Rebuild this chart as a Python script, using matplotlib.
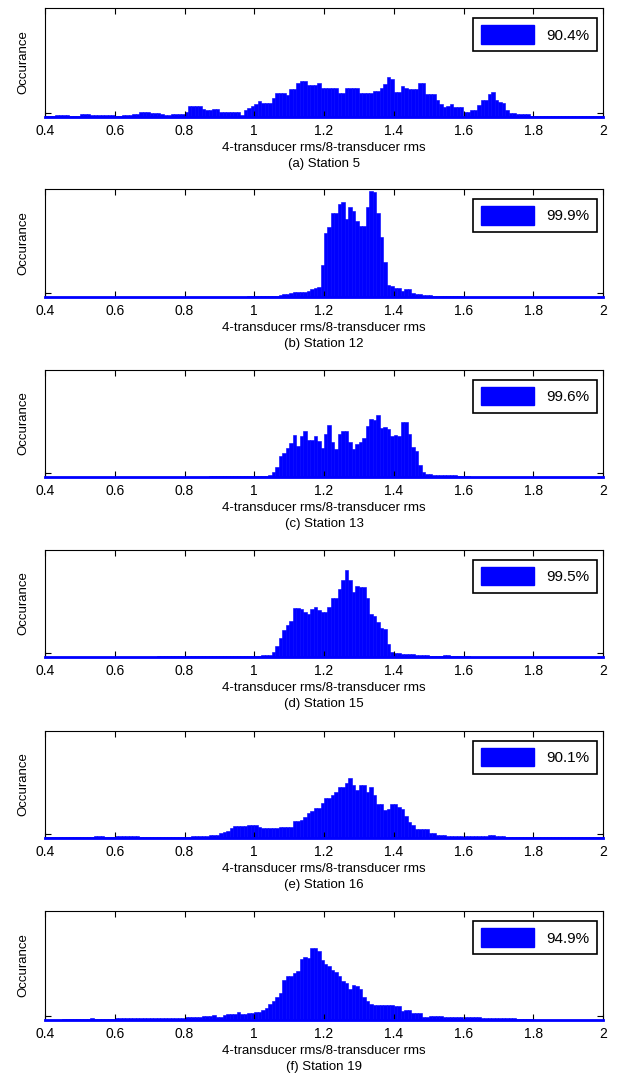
import numpy as np
import matplotlib
matplotlib.use('Agg')
import matplotlib.pyplot as plt
from matplotlib.patches import Patch

plt.rcParams['font.family'] = ['Liberation Sans', 'DejaVu Sans']

# Histogram heights (percent of panel height), bins of 0.01 from 0.4 to 2.0
station_5 = [
    1, 1, 1, 2, 2, 2, 2, 1, 1, 1,
    3, 3, 3, 2, 2, 2, 2, 2, 2, 2,
    1, 1, 2, 2, 2, 3, 3, 5, 5, 5,
    4, 4, 4, 3, 2, 2, 3, 3, 3, 3,
    5, 10, 10, 10, 10, 7, 6, 6, 7, 7,
    5, 5, 5, 5, 5, 5, 2, 6, 8, 10,
    12, 15, 13, 13, 13, 17, 22, 22, 22, 20,
    26, 26, 31, 33, 33, 29, 29, 29, 31, 27,
    27, 27, 27, 27, 22, 22, 27, 27, 27, 27,
    22, 22, 22, 22, 24, 24, 27, 30, 37, 35,
    23, 23, 28, 27, 26, 26, 26, 31, 31, 21,
    21, 21, 16, 12, 9, 10, 12, 9, 9, 9,
    5, 5, 6, 6, 11, 16, 16, 21, 23, 16,
    14, 13, 6, 4, 4, 2.5, 2.5, 2.5, 2.5, 1,
    1, 0.5, 0.5, 0.5, 0.5, 0.5, 0.5, 0.5, 0.5, 0.5,
    0.5, 0.5, 0.5, 0.5, 0.5, 0.5, 0.5, 0.5, 0.5, 0.5,
]
station_12 = [
    0, 0, 0, 0, 0, 0, 0, 0, 0, 0,
    0, 0, 0, 0, 0, 0, 0, 0, 0, 0,
    0, 0, 0, 0, 0, 0, 0, 0, 0, 0,
    0, 0, 0, 0, 0, 0, 0, 0, 0, 0,
    0, 0, 0, 0, 0, 0, 0, 0, 0, 0,
    0, 0, 0, 0, 0, 0, 0, 0, 0.5, 0.5,
    0.5, 0.5, 0.5, 1, 1, 1, 1, 2, 3, 3,
    4, 5, 5, 5, 5, 6, 7, 8, 9, 30,
    59, 65, 78, 78, 86, 88, 72, 83, 80, 70,
    66, 66, 83, 98, 97, 78, 56, 32, 11, 10,
    8, 8, 6, 7, 7, 4, 3, 3, 2, 1.5,
    1.5, 1, 1, 1, 1, 0.5, 0.5, 0.5, 0.5, 0.5,
    0, 0, 0, 0, 0, 0, 0, 0, 0, 0,
    0, 0, 0, 0, 0, 0, 0, 0, 0, 0,
    0, 0, 0, 0, 0, 0, 0, 0, 0, 0,
    0, 0, 0, 0, 0, 0, 0, 0, 0, 0,
]
station_13 = [
    0, 0, 0, 0, 0, 0, 0, 0, 0, 0,
    0, 0, 0, 0, 0, 0, 0, 0, 0, 0,
    0, 0, 0, 0, 0, 0, 0, 0, 0, 0,
    0, 0, 0, 0, 0, 0, 0, 0, 0, 0,
    0, 0, 0, 0, 0, 0, 0, 1, 1, 1,
    1, 1, 1, 1, 1, 1, 1, 1, 1, 1,
    1, 1, 1, 1, 2, 5, 9, 20, 22, 27,
    32, 39, 29, 38, 43, 35, 35, 38, 34, 27,
    40, 49, 33, 26, 40, 43, 43, 33, 26, 31,
    33, 36, 48, 54, 53, 58, 46, 47, 45, 38,
    39, 38, 51, 51, 40, 28, 24, 11, 5, 3,
    3, 1.5, 1.5, 2, 2, 2, 2, 2, 1, 1,
    0.5, 0.5, 0, 0, 0, 0, 0, 0, 0, 0,
    0, 0, 0, 0, 0, 0, 0, 0, 0, 0,
    0, 0, 0, 0, 0, 0, 0, 0, 0, 0,
    0, 0, 0, 0, 0, 0, 0, 0, 0, 0,
]
station_15 = [
    0, 0, 0, 0, 0, 0, 0, 0, 0, 0,
    0, 0, 0, 0, 0, 0, 0, 0, 0, 0,
    0, 0, 0, 0, 0, 0, 0, 0, 0, 0,
    0, 0, 0.5, 0.5, 0.5, 0.5, 0.5, 0.5, 0.5, 0.5,
    0.5, 1, 1, 1, 1, 1, 1, 1, 1, 1,
    1, 1, 1, 1, 1, 1, 1, 1, 1, 1,
    1, 1, 1.5, 2, 2, 5, 10, 18, 25, 30,
    34, 46, 46, 45, 42, 40, 45, 47, 44, 42,
    42, 47, 55, 55, 64, 72, 81, 72, 61, 66,
    65, 65, 55, 40, 38, 33, 27, 26, 12, 5,
    4, 4, 3, 3, 3, 3, 2, 2, 2, 2,
    1, 1, 1, 1, 2, 2, 1, 1, 1, 1,
    0.5, 0.5, 0, 0, 0, 0, 0, 0, 0, 0,
    0, 0, 0, 0, 0, 0, 0, 0, 0, 0,
    0, 0, 0, 0, 0, 0, 0, 0, 0, 0,
    0, 0, 0, 0, 0, 0, 0, 0, 0, 0,
]
station_16 = [
    1, 1, 1, 1, 1, 1, 1, 1, 1, 1,
    1, 1, 1, 1, 1.5, 1.5, 1.5, 1, 1, 1,
    1.5, 1.5, 1.5, 1.5, 1.5, 1.5, 1.5, 1, 1, 1,
    1, 1, 1, 1, 1, 1, 1, 1, 1, 1,
    1, 1, 2, 2, 2, 1.5, 1.5, 3, 3, 2.5,
    4.5, 6, 7, 9, 11.5, 11.5, 11.5, 11.5, 12, 12,
    12, 10.5, 9.5, 9.5, 9.5, 9.5, 9.5, 10.5, 10.5, 10.5,
    10.5, 16, 16, 17, 20, 23, 25, 28, 28, 33,
    37, 37, 40, 43, 48, 48, 51, 56, 50, 45,
    50, 50, 43, 48, 40, 32, 32, 26, 27, 32,
    32, 29, 27, 21, 15, 12, 8.5, 8.5, 8.5, 8.5,
    5, 5, 2.5, 3, 3, 2, 2, 2, 2, 1.5,
    1.5, 1.5, 1.5, 1.5, 1.5, 1.5, 2, 3, 3, 2,
    2, 1.5, 1, 1, 1, 1, 1, 1, 1, 1,
    0.5, 0.5, 0.5, 0.5, 0.5, 0.5, 0.5, 0.5, 0.5, 0.5,
    0.5, 0.5, 0.5, 0.5, 0.5, 0.5, 0.5, 0.5, 0.5, 0.5,
]
station_19 = [
    0.3, 0.3, 0.3, 0.3, 0.3, 1, 1, 1, 1, 1,
    0.5, 0.5, 0.5, 2, 1.3, 1.3, 1.3, 1.3, 1.3, 1.3,
    1.5, 1.5, 1.5, 1.5, 1.5, 1.5, 1.5, 1.5, 1.5, 1.5,
    1.5, 1.5, 1.5, 1.5, 1.5, 1.5, 1.5, 1.5, 2, 2,
    3, 3, 3, 3, 3, 4, 4, 4, 4.5, 3,
    3, 4.3, 5.2, 5.2, 5.2, 7.3, 5.2, 5.2, 6.7, 6.7,
    7.6, 7.6, 8.9, 10.7, 14.4, 17.7, 21.4, 25, 37, 40,
    40, 43, 45, 56, 58, 57, 66, 66, 63, 55,
    51, 50, 46, 44, 40, 36, 34, 28, 32, 31,
    28, 21, 17, 15, 14, 14, 14, 14, 14, 14,
    13, 13, 8, 9, 9, 6, 6, 6, 3, 3,
    3.7, 3.7, 3.7, 3.7, 2.8, 2.8, 2.8, 2.5, 2.5, 2.5,
    2.5, 2.5, 2.5, 2.5, 2.5, 1.5, 1.5, 1.5, 1.5, 1.5,
    1.5, 1.5, 1.5, 1.5, 1.5, 0.8, 0.8, 0.8, 0.8, 0.8,
    0.3, 0.3, 0.3, 0.3, 0.3, 0.3, 0.3, 0.3, 0.3, 0.3,
    0.3, 0.3, 0.3, 0.3, 0.3, 0.3, 0.3, 0.3, 0.3, 0.3,
]

heights = [station_5, station_12, station_13, station_15, station_16, station_19]
captions = ['(a) Station 5', '(b) Station 12', '(c) Station 13',
            '(d) Station 15', '(e) Station 16', '(f) Station 19']
percentages = ['90.4%', '99.9%', '99.6%', '99.5%', '90.1%', '94.9%']
xticks = [0.4, 0.6, 0.8, 1.0, 1.2, 1.4, 1.6, 1.8, 2.0]
xtick_labels = ['0.4', '0.6', '0.8', '1', '1.2', '1.4', '1.6', '1.8', '2']

bin_start = 0.4
bin_width = 0.01

W, H = 618, 1091
fig = plt.figure(figsize=(W / 100, H / 100), dpi=100)

# panel frame positions in pixels
left_px, right_px = 45, 603
tops = [8, 189, 370, 550, 731, 911]
bottoms = [117, 297, 477, 657, 838, 1020]

for i in range(6):
    ax = fig.add_axes([left_px / W, 1 - bottoms[i] / H,
                       (right_px - left_px) / W, (bottoms[i] - tops[i]) / H])
    vals = np.array(heights[i], dtype=float)
    edges = bin_start + bin_width * np.arange(len(vals))
    ax.bar(edges, vals, width=bin_width, align='edge', color='blue',
           edgecolor='blue', linewidth=0.4)
    ax.set_xlim(0.4, 2.0)
    ax.set_ylim(0, 100)
    ax.set_xticks(xticks)
    ax.set_xticklabels(xtick_labels, fontsize=10)
    ax.set_yticks([4])
    ax.set_yticklabels([])
    ax.tick_params(direction='in', top=True, right=True, length=4, width=0.8, pad=5)
    for s in ax.spines.values():
        s.set_linewidth(0.8)
    ax.spines['bottom'].set_color('blue')
    ax.spines['bottom'].set_linewidth(2)
    ax.set_xlabel('4-transducer rms/8-transducer rms', fontsize=9.5, labelpad=3)
    ax.set_ylabel('Occurance', fontsize=9.5, labelpad=6)
    handle = Patch(facecolor='blue', edgecolor='blue')
    leg = ax.legend([handle], [percentages[i]], loc='upper right',
                    bbox_to_anchor=(0.99, 0.91), borderaxespad=0,
                    fancybox=False, edgecolor='black', framealpha=1,
                    handlelength=3.5, handleheight=1.45, fontsize=11,
                    borderpad=0.5, handletextpad=0.8)
    leg.get_frame().set_linewidth(1.2)
    fig.text((left_px + right_px) / 2 / W, 1 - (bottoms[i] + 47) / H, captions[i],
             ha='center', va='center', fontsize=9.5)

fig.savefig('out.png', dpi=100)
